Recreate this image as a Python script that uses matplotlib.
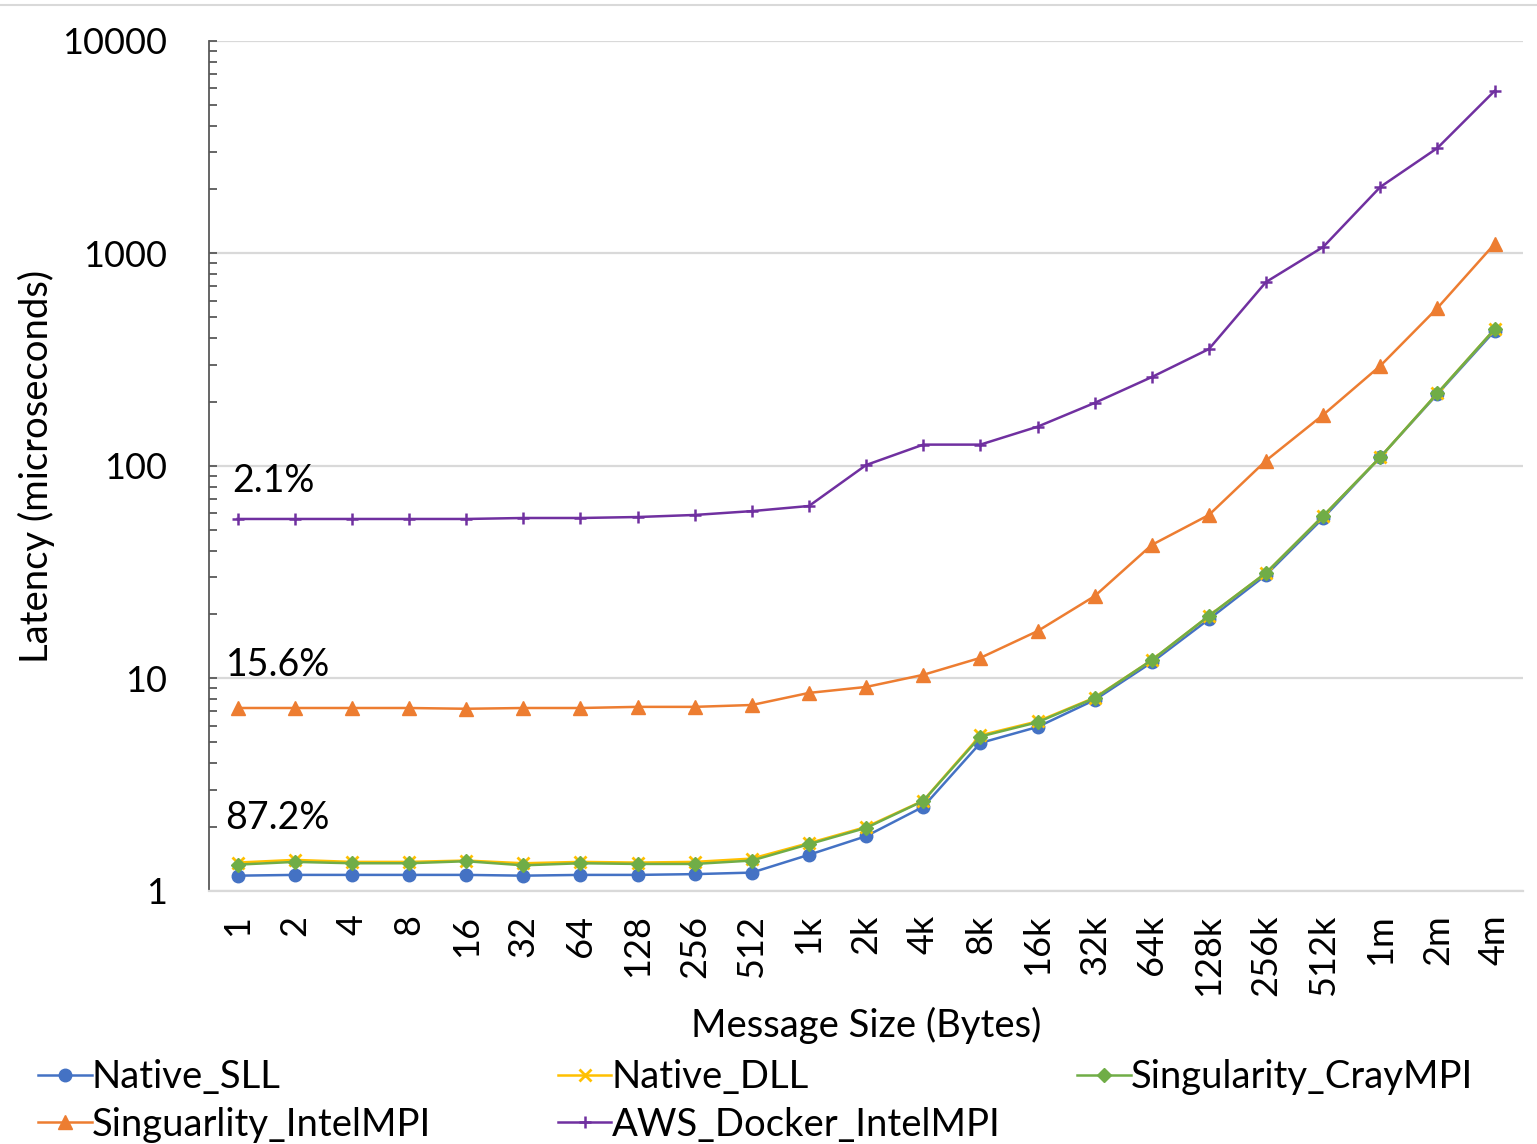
import matplotlib
matplotlib.use("Agg")
import matplotlib.pyplot as plt
from matplotlib.ticker import LogLocator, NullFormatter, FixedLocator

plt.rcParams['font.family'] = ['Lato', 'DejaVu Sans']

sizes = ['1', '2', '4', '8', '16', '32', '64', '128', '256', '512', '1k', '2k',
         '4k', '8k', '16k', '32k', '64k', '128k', '256k', '512k', '1m', '2m', '4m']

native_sll = [1.18, 1.19, 1.19, 1.19, 1.19, 1.18, 1.19, 1.19, 1.20, 1.22, 1.48, 1.81,
              2.49, 4.97, 5.91, 7.92, 11.9, 19.0, 30.7, 56.9, 110, 218, 432]
native_dll = [1.36, 1.40, 1.37, 1.37, 1.39, 1.35, 1.37, 1.36, 1.37, 1.42, 1.68, 2.00,
              2.66, 5.40, 6.28, 8.12, 12.2, 19.7, 31.4, 58.2, 110, 220, 440]
cray_mpi = [1.33, 1.37, 1.35, 1.35, 1.38, 1.32, 1.35, 1.34, 1.34, 1.39, 1.66, 1.98,
            2.65, 5.33, 6.22, 8.08, 12.2, 19.7, 31.4, 58.2, 110, 220, 440]
intel_mpi = [7.26, 7.26, 7.26, 7.26, 7.2, 7.26, 7.26, 7.35, 7.35, 7.5, 8.55, 9.12,
             10.4, 12.5, 16.7, 24.4, 42.5, 58.8, 106, 174, 296, 554, 1109]
aws_docker = [56.3, 56.3, 56.3, 56.3, 56.3, 56.9, 56.9, 57.5, 58.8, 61.3, 64.8, 101,
              126, 126, 153, 198, 262, 355, 734, 1073, 2056, 3136, 5818]

shares = ['2.1%', '15.6%', '87.2%']

x = list(range(len(sizes)))

fig = plt.figure(figsize=(15.37, 11.44), dpi=100)
ax = fig.add_axes([0.136, 0.2212, 0.855, 0.7430])

ln_sll, = ax.plot(x, native_sll, color='#4472C4', lw=1.8, marker='o', ms=9, label='Native_SLL')
ln_dll, = ax.plot(x, native_dll, color='#FFC000', lw=1.8, marker='x', ms=9, mew=2, label='Native_DLL')
ln_cray, = ax.plot(x, cray_mpi, color='#70AD47', lw=1.8, marker='D', ms=7, label='Singularity_CrayMPI')
ln_intel, = ax.plot(x, intel_mpi, color='#ED7D31', lw=1.8, marker='^', ms=10, label='Singuarlity_IntelMPI')
ln_aws, = ax.plot(x, aws_docker, color='#7030A0', lw=1.8, marker='+', ms=9, mew=1.8, label='AWS_Docker_IntelMPI')

ax.set_yscale('log')
ax.set_ylim(1, 10000)
ax.set_xlim(-0.5, len(sizes) - 0.5)
ax.yaxis.set_major_locator(FixedLocator([1, 10, 100, 1000, 10000]))
ax.yaxis.set_minor_locator(LogLocator(base=10, subs=range(2, 10)))
ax.yaxis.set_minor_formatter(NullFormatter())
ax.set_yticklabels(['1', '10', '100', '1000', '10000'])
ax.grid(axis='y', which='major', color='#d9d9d9', lw=1.6)
ax.set_axisbelow(True)

ax.set_xticks(x)
ax.set_xticklabels(sizes, rotation=90)
ax.tick_params(axis='x', length=0, pad=17, labelsize=26)
ax.tick_params(axis='y', which='major', direction='in', length=6, width=1.3,
               color='#595959', pad=30, labelsize=26)
ax.tick_params(axis='y', which='minor', direction='in', length=6, width=1.3, color='#595959')

for side in ['top', 'right']:
    ax.spines[side].set_visible(False)
ax.spines['left'].set_color('#595959')
ax.spines['left'].set_linewidth(1.3)
ax.spines['bottom'].set_color('#d9d9d9')
ax.spines['bottom'].set_linewidth(1.6)

ax.set_xlabel('Message Size (Bytes)', fontsize=27.5, labelpad=8)
ax.set_ylabel('Latency (microseconds)', fontsize=27.5, labelpad=5)

ax.text(-0.1, 85, shares[0], fontsize=27, va='center', ha='left')
ax.text(-0.21, 11.6, shares[1], fontsize=27, va='center', ha='left')
ax.text(-0.21, 2.2, shares[2], fontsize=27, va='center', ha='left')

# legend laid out as three separate columns
columns = [([ln_sll, ln_intel], 0.025), ([ln_dll, ln_aws], 0.363), ([ln_cray], 0.701)]
for handles, xpos in columns:
    fig.legend(handles, [h.get_label() for h in handles],
               loc='upper left', bbox_to_anchor=(xpos, 0.074),
               ncol=1, frameon=False, fontsize=27.5, handlelength=1.4, handletextpad=0.0,
               labelspacing=0.3, borderaxespad=0.0, borderpad=0.0)

fig.add_artist(plt.Line2D([0, 1], [0.996, 0.996], color='#d9d9d9', lw=1.5,
                          transform=fig.transFigure))

fig.savefig('out.png', dpi=100)
